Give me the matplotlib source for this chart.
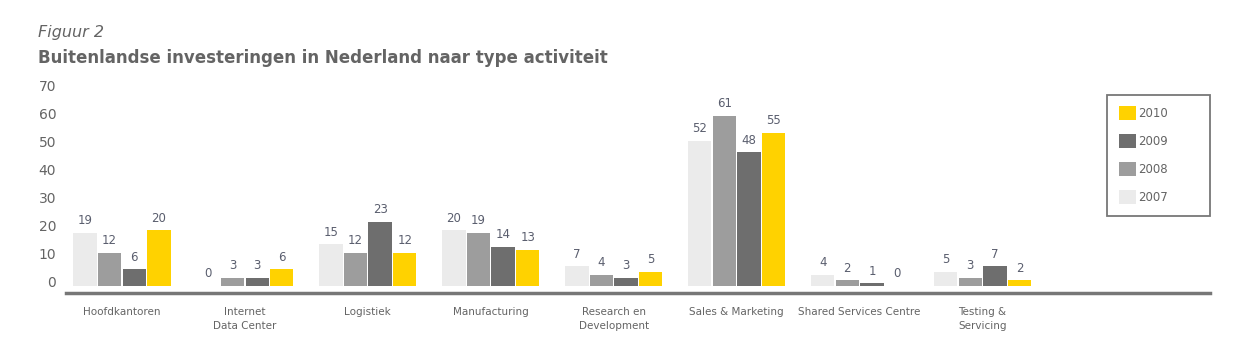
import matplotlib.pyplot as plt
import matplotlib.transforms as mtransforms
from matplotlib.patches import Patch, Rectangle
import numpy as np

categories = ["Hoofdkantoren", "Internet\nData Center", "Logistiek", "Manufacturing",
              "Research en\nDevelopment", "Sales & Marketing", "Shared Services Centre",
              "Testing &\nServicing"]
years = ["2007", "2008", "2009", "2010"]
v2007 = [19, 0, 15, 20, 7, 52, 4, 5]
v2008 = [12, 3, 12, 19, 4, 61, 2, 3]
v2009 = [6, 3, 23, 14, 3, 48, 1, 7]
v2010 = [20, 6, 12, 13, 5, 55, 0, 2]
series = [v2007, v2008, v2009, v2010]
colors = ["#ebebeb", "#9d9d9d", "#6e6e6e", "#ffd200"]

text_gray = "#646464"
label_col = "#5a5e6e"

fig = plt.figure(figsize=(12.36, 3.56), dpi=100)
ax = fig.add_axes([0.0534, 0.177, 0.9256, 0.598])

x = np.arange(len(categories))
step = 0.2
width = 0.19
for i, (vals, col) in enumerate(zip(series, colors)):
    pos = x + (i - 1.5) * step
    ax.bar(pos, vals, width, color=col, linewidth=0, zorder=2)
    for p, v in zip(pos, vals):
        ax.text(p, v + 2.0, str(v), ha="center", va="bottom", fontsize=8.5,
                color=label_col)

ax.set_xlim(-0.455, 8.85)
ax.set_ylim(-2.5, 73.8)

for s in ["top", "right", "left"]:
    ax.spines[s].set_visible(False)
ax.spines["bottom"].set_color("#777777")
ax.spines["bottom"].set_linewidth(2.5)

ax.set_yticks(range(0, 80, 10))
ax.tick_params(axis="y", length=0, labelsize=10, labelcolor=text_gray, pad=7)
offset = mtransforms.ScaledTranslation(0, 5 / 100, fig.dpi_scale_trans)
for lbl in ax.get_yticklabels():
    lbl.set_transform(lbl.get_transform() + offset)

ax.set_xticks(x)
ax.set_xticklabels(categories, fontsize=7.5, color=text_gray, va="top", linespacing=1.5)
ax.tick_params(axis="x", length=0, pad=10)

# legend frame drawn separately
fig.patches.append(Rectangle((0.8956, 0.3933), 0.0833, 0.34, transform=fig.transFigure,
                             fill=False, edgecolor="#777777", linewidth=1.3))
handles = [Patch(facecolor=c, edgecolor="none") for c in colors[::-1]]
leg = fig.legend(handles, years[::-1], loc="upper left",
                 bbox_to_anchor=(1119 / 1236, (356 - 106) / 356),
                 frameon=False, fontsize=8.5, labelcolor=text_gray,
                 handlelength=1.4, handleheight=1.4, handletextpad=0.25,
                 labelspacing=1.22, borderpad=0, borderaxespad=0)

fig.text(0.031, 0.895, "Figuur 2", fontsize=11.5, style="italic", color=text_gray)
fig.text(0.031, 0.822, "Buitenlandse investeringen in Nederland naar type activiteit",
         fontsize=12, fontweight="bold", color=text_gray)

fig.savefig("out.png", dpi=100)
